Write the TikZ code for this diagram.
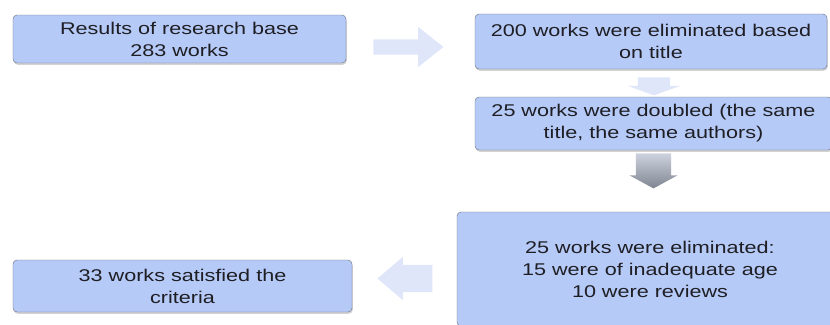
\documentclass[tikz,border=0pt]{standalone}
\usepackage{fontspec}
\setmainfont{Liberation Sans}[FakeStretch=1.27]
\usepackage{tikz}
\usetikzlibrary{shapes.arrows, positioning, calc, shadows}
\definecolor{boxblue}{RGB}{182, 202, 247}
\definecolor{boxline}{RGB}{105, 110, 122}
\definecolor{textdark}{RGB}{30, 30, 36}
\definecolor{arrowpale}{RGB}{224, 230, 250}
\definecolor{arrowlight}{RGB}{205, 210, 222}
\definecolor{arrowdark}{RGB}{128, 133, 146}
\tikzset{
    resbox/.style={
        draw=boxline, fill=boxblue, rounded corners=4pt, text=textdark,
        align=center, inner sep=0pt, font=\fontsize{17}{22}\selectfont,
        drop shadow={shadow xshift=0.8pt, shadow yshift=-1.8pt, opacity=0.35}
    },
    palearrow/.style={
        single arrow, draw=none, fill=arrowpale, inner sep=0pt
    }
}

\begin{document}
\begin{tikzpicture}[x=1pt, y=-1pt]
        \path[use as bounding box] (0,0) rectangle (830,324);
        \clip (0,0) rectangle (830,324);

        % --- 1. BOXES ---
        \node[resbox, minimum width=333pt, minimum height=48pt] (bbase) at (179.5,39)
            {Results of research base\\283 works};
        \node[resbox, minimum width=352pt, minimum height=55pt] (btitle) at (651,41.5)
            {200 works were eliminated based\\on title};
        \node[resbox, minimum width=357pt, minimum height=53pt] (bdouble) at (653.5,123.5)
            {25 works were doubled (the same\\title, the same authors)};
        \node[resbox, minimum width=386pt, minimum height=114pt] (belim) at (650,269)
            {25 works were eliminated:\\15 were of inadequate age\\10 were reviews};
        \node[resbox, minimum width=339pt, minimum height=52pt] (bfinal) at (182.5,286)
            {33 works satisfied the\\criteria};

        % --- 2. ARROWS ---
        \node[palearrow, right=27pt of bbase, yshift=-8pt, inner ysep=7.5pt,
            minimum height=70pt, minimum width=40pt,
            single arrow head extend=12.5pt, single arrow tip angle=77] (a1) {};
        \node[palearrow, below=8pt of btitle, xshift=3pt, shape border rotate=270,
            inner xsep=16pt, minimum height=18pt, minimum width=52pt,
            single arrow head extend=10pt, single arrow tip angle=140] (a2) {};
        \node[single arrow, draw=none, inner sep=0pt, inner xsep=17.5pt,
            below=3pt of bdouble, shape border rotate=270,
            top color=arrowlight, bottom color=arrowdark,
            minimum height=35pt, minimum width=48pt,
            single arrow head extend=6.5pt, single arrow tip angle=123] (a3) {};
        \node[palearrow, shape border rotate=180, inner ysep=13.5pt,
            minimum height=55pt, minimum width=43pt,
            single arrow head extend=8pt, single arrow tip angle=81] (a4) at (413,278.5) {};

    \end{tikzpicture}
\end{document}
